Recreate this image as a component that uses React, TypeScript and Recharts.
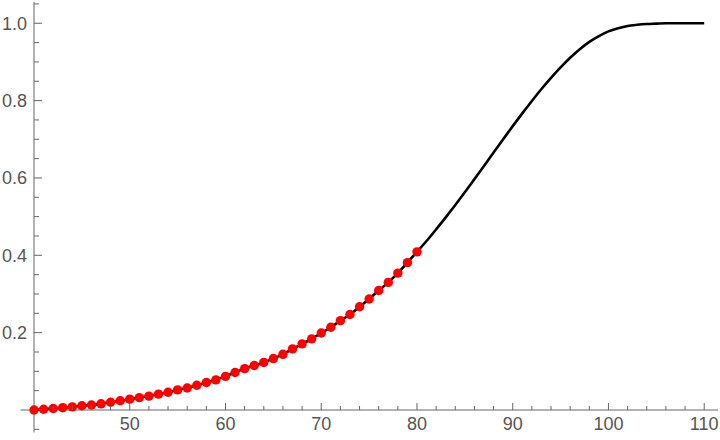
import { ComposedChart, Line, XAxis, YAxis, ReferenceLine } from 'recharts';

// sampled points (red) and the fitted curve beyond them
const sampleX = [40, 41, 42, 43, 44, 45, 46, 47, 48, 49, 50, 51, 52, 53, 54, 55, 56, 57, 58, 59, 60,
  61, 62, 63, 64, 65, 66, 67, 68, 69, 70, 71, 72, 73, 74, 75, 76, 77, 78, 79, 80];
const sampleY = [0.0, 0.002, 0.004, 0.006, 0.008, 0.011, 0.013, 0.016, 0.02, 0.024, 0.028,
  0.032, 0.036, 0.041, 0.046, 0.052, 0.057, 0.064, 0.071, 0.078, 0.087,
  0.097, 0.107, 0.115, 0.123, 0.133, 0.144, 0.158, 0.171, 0.184, 0.199,
  0.214, 0.231, 0.247, 0.267, 0.287, 0.309, 0.33, 0.354, 0.381, 0.409];
const tailX = [81, 82, 83, 84, 85, 86, 87, 88, 89, 90, 91, 92, 93, 94, 95, 96, 97, 98, 99, 100,
  101, 102, 103, 104, 105, 106, 107, 108, 109, 110];
const tailY = [0.437, 0.467, 0.498, 0.53, 0.563, 0.597, 0.631, 0.666, 0.7, 0.734, 0.767, 0.799, 0.83,
  0.859, 0.886, 0.911, 0.933, 0.952, 0.967, 0.979, 0.987, 0.993, 0.996, 0.998, 0.999, 1.0, 1.0, 1.0, 1.0, 1.0];

const xTicks = [42, 44, 46, 48, 50, 52, 54, 56, 58, 60, 62, 64, 66, 68, 70, 72, 74, 76, 78, 80,
  82, 84, 86, 88, 90, 92, 94, 96, 98, 100, 102, 104, 106, 108, 110];
const yTicks = [0.05, 0.1, 0.15, 0.2, 0.25, 0.3, 0.35, 0.4, 0.45, 0.5, 0.55, 0.6, 0.65, 0.7, 0.75,
  0.8, 0.85, 0.9, 0.95, 1.0, 1.05];

const points = sampleX.map((x, i) => ({ x, v: sampleY[i] }));
const curve = points.concat(tailX.map((x, i) => ({ x, v: tailY[i] })));

const axisColor = '#666666';
const labelColor = '#555555';
const font = 'Liberation Sans, Arial, sans-serif';

const XTick = ({ x, y, payload }: any) => {
  const major = payload.value % 10 === 0;
  return (
    <g>
      <line x1={x} x2={x} y1={y} y2={y - (major ? 7 : 4)} stroke={axisColor} />
      {major && (
        <text x={x} y={y + 20} textAnchor="middle" fill={labelColor} fontSize={18} fontFamily={font}>
          {payload.value}
        </text>
      )}
    </g>
  );
};

const YTick = ({ x, y, payload }: any) => {
  const v = payload.value;
  const major = Math.abs(v * 5 - Math.round(v * 5)) < 1e-6;
  return (
    <g>
      <line x1={x} x2={x + (major ? 8 : 5)} y1={y} y2={y} stroke={axisColor} />
      {major && (
        <text x={x - 7} y={y + 6.5} textAnchor="end" fill={labelColor} fontSize={18} fontFamily={font}>
          {v.toFixed(1)}
        </text>
      )}
    </g>
  );
};

export default function App() {
  return (
    <div style={{ position: 'absolute', left: 0, top: 0, background: '#fff' }}>
      <ComposedChart width={720} height={440} margin={{ top: 2, right: 2, bottom: 0, left: 0 }}>
        <XAxis
          type="number"
          dataKey="x"
          domain={[40, 111.44]}
          ticks={xTicks}
          interval={0}
          height={30}
          tickSize={0}
          tickMargin={0}
          tickLine={false}
          tick={<XTick />}
          axisLine={{ stroke: axisColor }}
        />
        <YAxis
          type="number"
          domain={[0, 1.055]}
          ticks={yTicks}
          interval={0}
          width={34}
          tickSize={0}
          tickMargin={0}
          tickLine={false}
          tick={<YTick />}
          axisLine={{ stroke: axisColor }}
        />
        <ReferenceLine segment={[{ x: 38.6, y: 0 }, { x: 40, y: 0 }]} stroke={axisColor} ifOverflow="visible" />
        <ReferenceLine segment={[{ x: 40, y: 0 }, { x: 40, y: -0.058 }]} stroke={axisColor} ifOverflow="visible" />
        <ReferenceLine segment={[{ x: 40, y: -0.05 }, { x: 40.55, y: -0.05 }]} stroke={axisColor} ifOverflow="visible" />
        <Line
          data={curve}
          dataKey="v"
          type="monotone"
          stroke="#000"
          strokeWidth={2.6}
          dot={false}
          activeDot={false}
          isAnimationActive={false}
        />
        <Line
          data={points}
          dataKey="v"
          stroke="none"
          dot={{ r: 4.7, fill: '#ff0000', stroke: 'none' }}
          activeDot={false}
          isAnimationActive={false}
        />
      </ComposedChart>
    </div>
  );
}
